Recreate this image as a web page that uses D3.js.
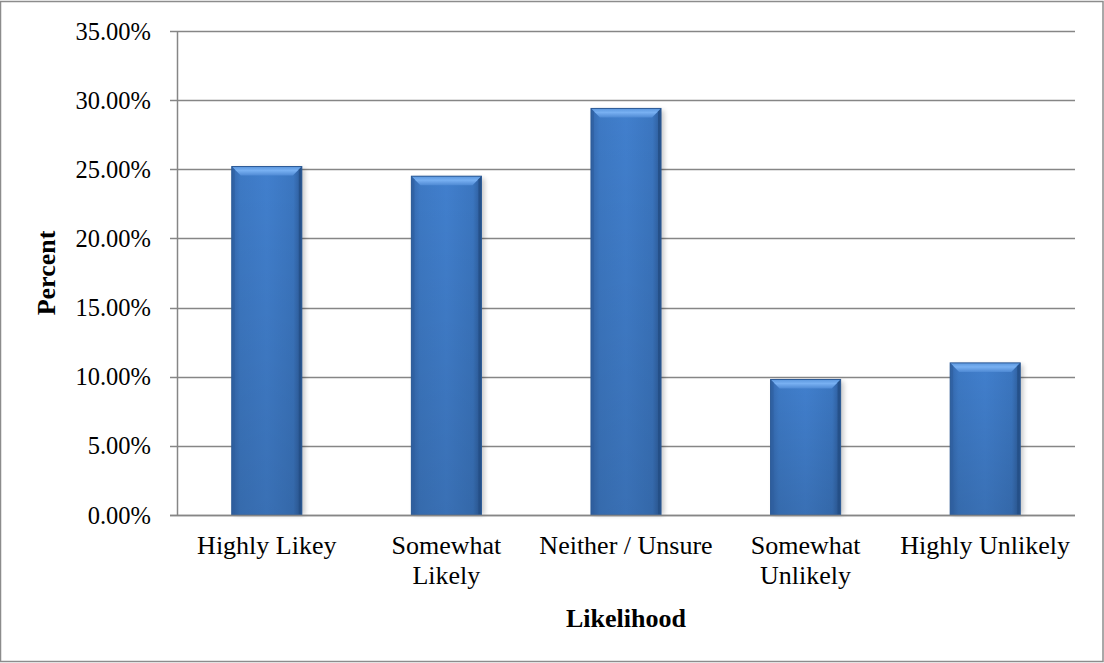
<!DOCTYPE html>
<html>
<head>
<meta charset="utf-8">
<script src="https://cdn.jsdelivr.net/npm/d3@7"></script>
<style>
  html, body { margin: 0; padding: 0; background: #fff; }
  svg { display: block; font-family: "Liberation Serif", "Times New Roman", serif; }
</style>
</head>
<body>
<svg id="chart" width="1104" height="663"></svg>
<script>
// Survey responses by likelihood
const categories = ["Highly Likey", "Somewhat Likely", "Neither / Unsure", "Somewhat Unlikely", "Highly Unlikely"];
const categoryLines = [["Highly Likey"], ["Somewhat", "Likely"], ["Neither / Unsure"], ["Somewhat", "Unlikely"], ["Highly Unlikely"]];
const percents = [25.2, 24.5, 29.4, 9.8, 11.0];
const yTicks = [0, 5, 10, 15, 20, 25, 30, 35];

const W = 1104, H = 663;
const margin = { left: 177, right: 29, top: 31, bottom: 148 };
const svg = d3.select("#chart");

// outer frame
svg.append("rect")
  .attr("x", 0.5).attr("y", 1.5)
  .attr("width", W - 1.5).attr("height", H - 3)
  .attr("fill", "#fff").attr("stroke", "#8c8c8c").attr("stroke-width", 1.5);

const x = d3.scaleBand()
  .domain(categories)
  .range([margin.left, W - margin.right])
  .paddingInner(0.61).paddingOuter(0.305);

const y = d3.scaleLinear()
  .domain([0, 35])
  .range([H - margin.bottom, margin.top]);

const defs = svg.append("defs");
const body = defs.append("linearGradient").attr("id", "barBody")
  .attr("x1", 0).attr("x2", 1).attr("y1", 0).attr("y2", 0);
body.append("stop").attr("offset", "0%").attr("stop-color", "#3468ae");
body.append("stop").attr("offset", "12%").attr("stop-color", "#3d79c4");
body.append("stop").attr("offset", "50%").attr("stop-color", "#417fcd");
body.append("stop").attr("offset", "88%").attr("stop-color", "#3b76c0");
body.append("stop").attr("offset", "100%").attr("stop-color", "#2c5a98");

const shade = defs.append("linearGradient").attr("id", "barShade")
  .attr("x1", 0).attr("x2", 0).attr("y1", 0).attr("y2", 1);
shade.append("stop").attr("offset", "0%").attr("stop-color", "#000").attr("stop-opacity", 0);
shade.append("stop").attr("offset", "100%").attr("stop-color", "#000").attr("stop-opacity", 0.12);

const topBevel = defs.append("linearGradient").attr("id", "topBevel")
  .attr("x1", 0).attr("x2", 0).attr("y1", 0).attr("y2", 1);
topBevel.append("stop").attr("offset", "0%").attr("stop-color", "#5b97de");
topBevel.append("stop").attr("offset", "45%").attr("stop-color", "#78b0f2");
topBevel.append("stop").attr("offset", "100%").attr("stop-color", "#4f8ad4");

const blur = defs.append("filter").attr("id", "soft")
  .attr("x", "-20%").attr("y", "-5%").attr("width", "140%").attr("height", "110%");
blur.append("feGaussianBlur").attr("stdDeviation", 2.5);

// gridlines with tick stubs to the left of the axis
const grid = svg.append("g");
grid.selectAll("line")
  .data(yTicks)
  .join("line")
  .attr("x1", margin.left - 7)
  .attr("x2", W - margin.right)
  .attr("y1", d => Math.round(y(d)) + 0.5)
  .attr("y2", d => Math.round(y(d)) + 0.5)
  .attr("stroke", "#868686").attr("stroke-width", 1.5);

// vertical axis line
svg.append("line")
  .attr("x1", margin.left + 0.5).attr("x2", margin.left + 0.5)
  .attr("y1", y(35)).attr("y2", y(0))
  .attr("stroke", "#868686").attr("stroke-width", 1.5);

// tick labels
svg.append("g").selectAll("text")
  .data(yTicks)
  .join("text")
  .attr("x", 151)
  .attr("y", d => y(d))
  .attr("dy", "0.35em")
  .attr("text-anchor", "end")
  .attr("font-size", 24.5)
  .attr("fill", "#000")
  .text(d => d3.format(".2f")(d) + "%");

// bars
const bars = svg.append("g").selectAll("g")
  .data(categories.map((c, i) => ({ c, v: percents[i] })))
  .join("g");

const bw = x.bandwidth();
// soft shadow
bars.append("rect")
  .attr("x", d => x(d.c) + 3)
  .attr("y", d => y(d.v) + 2)
  .attr("width", bw)
  .attr("height", d => y(0) - y(d.v) - 2)
  .attr("fill", "#000").attr("opacity", 0.22)
  .attr("filter", "url(#soft)");

bars.append("rect")
  .attr("x", d => x(d.c))
  .attr("y", d => y(d.v))
  .attr("width", bw)
  .attr("height", d => y(0) - y(d.v))
  .attr("fill", "url(#barBody)");

bars.append("rect")
  .attr("x", d => x(d.c))
  .attr("y", d => y(d.v))
  .attr("width", bw)
  .attr("height", d => y(0) - y(d.v))
  .attr("fill", "url(#barShade)");

// bevelled top edge
const bev = 9;
bars.append("path")
  .attr("d", d => {
    const x0 = x(d.c), x1 = x0 + bw, t = y(d.v);
    return `M${x0},${t}L${x1},${t}L${x1 - bev},${t + bev}L${x0 + bev},${t + bev}Z`;
  })
  .attr("fill", "url(#topBevel)");

// darker side edges
bars.append("path")
  .attr("d", d => {
    const x0 = x(d.c), t = y(d.v), b = y(0);
    return `M${x0},${t}L${x0 + 3},${t + 3}L${x0 + 3},${b}L${x0},${b}Z`;
  })
  .attr("fill", "#2f5f9f").attr("opacity", 0.7);
bars.append("path")
  .attr("d", d => {
    const x1 = x(d.c) + bw, t = y(d.v), b = y(0);
    return `M${x1},${t}L${x1 - 3},${t + 3}L${x1 - 3},${b}L${x1},${b}Z`;
  })
  .attr("fill", "#234d85").attr("opacity", 0.8);

bars.append("rect")
  .attr("x", d => x(d.c))
  .attr("y", d => y(d.v))
  .attr("width", bw)
  .attr("height", d => y(0) - y(d.v))
  .attr("fill", "none")
  .attr("stroke", "#2c5a96").attr("stroke-width", 1);

// redraw baseline above bars
svg.append("line")
  .attr("x1", margin.left - 7).attr("x2", W - margin.right)
  .attr("y1", Math.round(y(0)) + 0.5).attr("y2", Math.round(y(0)) + 0.5)
  .attr("stroke", "#868686").attr("stroke-width", 1.5);

// category labels
const catG = svg.append("g");
categories.forEach((c, i) => {
  const cx = x(c) + bw / 2;
  const t = catG.append("text")
    .attr("text-anchor", "middle")
    .attr("font-size", 26)
    .attr("fill", "#000");
  categoryLines[i].forEach((line, j) => {
    t.append("tspan").attr("x", cx).attr("y", 554 + j * 30).text(line);
  });
});

// axis titles
svg.append("text")
  .attr("x", x.range()[0] + (x.range()[1] - x.range()[0]) / 2)
  .attr("y", 627)
  .attr("text-anchor", "middle")
  .attr("font-size", 26).attr("font-weight", "bold")
  .attr("fill", "#000")
  .text("Likelihood");

svg.append("text")
  .attr("transform", `translate(55, ${(y(0) + y(35)) / 2}) rotate(-90)`)
  .attr("text-anchor", "middle")
  .attr("font-size", 26).attr("font-weight", "bold")
  .attr("fill", "#000")
  .text("Percent");
</script>
</body>
</html>
